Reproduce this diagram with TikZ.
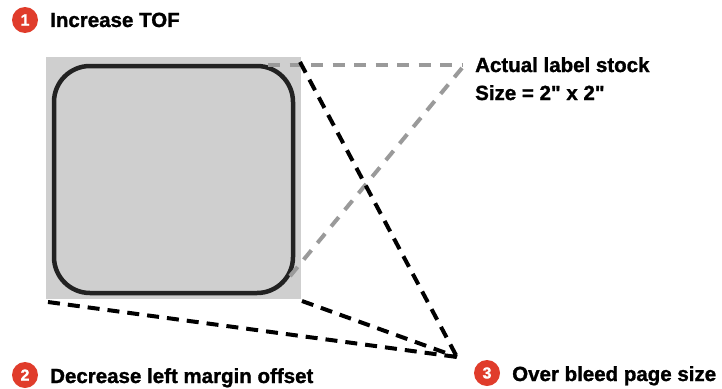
\documentclass[tikz,border=0pt]{standalone}
\usepackage{fontspec}
\setmainfont[BoldFeatures={FakeBold=1.3}]{Liberation Sans}
\definecolor{badgered}{HTML}{E03C2B}
\definecolor{pagegrey}{HTML}{CFCFCF}
\definecolor{dashgrey}{HTML}{9A9A9A}
\definecolor{edgeblack}{HTML}{222222}
\tikzset{
  badge/.style={circle, fill=badgered, text=white, minimum size=26pt, inner sep=0pt, font=\fontsize{16}{16}\selectfont\bfseries},
  caption/.style={anchor=base west, inner sep=0pt, font=\fontsize{20.5}{24}\selectfont\bfseries},
  blackdash/.style={line width=4pt, dash pattern=on 12pt off 8pt, black},
  greydash/.style={line width=4pt, dash pattern=on 12pt off 9.5pt, dashgrey},
}
\begin{document}
\begin{tikzpicture}[x=1pt,y=-1pt]
\useasboundingbox (0,0) rectangle (722,388);
% page (grey over-bleed area)
\node[fill=pagegrey, minimum width=255pt, minimum height=242pt, inner sep=0pt, anchor=north west] (page) at (46,57) {};
% label with rounded corners
\draw[edgeblack, line width=4.5pt, rounded corners=36pt] (54,66) rectangle (293,293);
\coordinate (lblTR) at (268,65);
\coordinate (lblBR) at (286,281);
\coordinate (stockA) at (462,65);
\coordinate (stockB) at (462,68);
\coordinate (apex) at (457,357);
\coordinate (pNE) at (300,62);
\coordinate (pSW) at (48,302);
\coordinate (pSE) at (302,301);
% grey dashed lines to label stock text
\draw[greydash] (lblTR) -- (stockA);
\draw[greydash] (stockB) -- (lblBR);
% black dashed lines to over bleed
\draw[blackdash] (pNE) -- (apex);
\draw[blackdash] (pSW) -- (apex);
\draw[blackdash] (pSE) -- (apex);
% badges and captions
\node[badge] (b1) at (25,20) {1};
\node[caption] (t1) at (50,27) {Increase TOF};
\node[badge] (b2) at (25,375) {2};
\node[caption] (t2) at (50,383) {Decrease left margin offset};
\node[badge] (b3) at (487,373) {3};
\node[caption] (t3) at (512,381) {Over bleed page size};
\node[caption] (s1) at (475,72) {Actual label stock};
\node[caption] (s2) at (475,100) {Size = 2\textquotedbl{} x 2\textquotedbl};
\end{tikzpicture}
\end{document}
